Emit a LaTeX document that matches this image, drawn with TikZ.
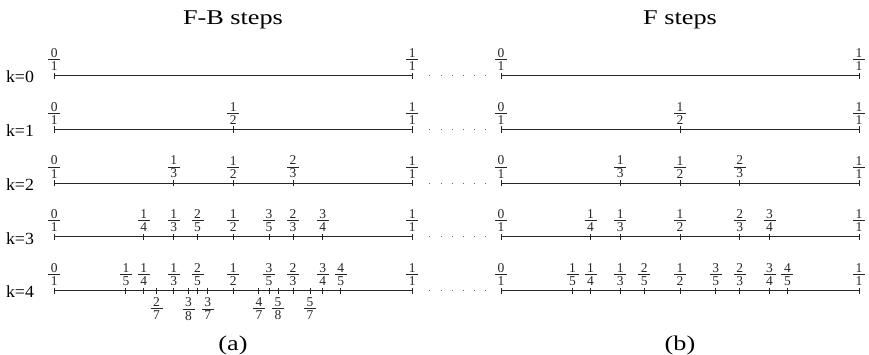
\documentclass[tikz,border=0pt]{standalone}
\usepackage{fontspec}
\setmainfont{Liberation Serif}
\newcommand\stretchtxt[2]{\scalebox{#1}[1]{#2}}
\newcommand\fr[2]{\vbox{\offinterlineskip
  \hbox to 12pt{\hss#1\hss}\kern1.6pt
  \hrule height 0.9pt\kern1.6pt
  \hbox to 12pt{\hss#2\hss}}}
\def\axlen{358}
\tikzset{
  axisline/.style={line width=1pt, draw=black!85},
  tickline/.style={line width=0.9pt, draw=black!85},
  dotline/.style={line width=1pt, draw=black!60, dash pattern=on 1pt off 10.2pt},
  fraclbl/.style={inner sep=0pt, text=black!85, font=\fontsize{13.5}{15}\selectfont},
  klbl/.style={inner sep=0pt, anchor=base, font=\fontsize{17}{19}\selectfont},
  titlelbl/.style={inner sep=0pt, anchor=base, font=\fontsize{21}{24}\selectfont},
}
\newcommand\numline[5]{%
  \coordinate (#1-s) at (#2,#3);
  \coordinate (#1-e) at ({#2+\axlen},#3);
  \draw[axisline] (#1-s) -- (#1-e);
  \foreach \n/\d in {#4} {
    \coordinate (#1-\n-\d) at ({#2+\axlen*\n/\d},#3);
    \draw[tickline] ([yshift=3.2pt]#1-\n-\d) -- ([yshift=-3.2pt]#1-\n-\d);
    \node[fraclbl, anchor=south] (#1-l-\n-\d) at ([yshift=5pt]#1-\n-\d) {\fr{\n}{\d}};
  }
  \foreach \n/\d in {#5} {
    \coordinate (#1-\n-\d) at ({#2+\axlen*\n/\d},#3);
    \draw[tickline] ([yshift=3.2pt]#1-\n-\d) -- ([yshift=-3.2pt]#1-\n-\d);
    \node[fraclbl, anchor=north] (#1-l-\n-\d) at ([yshift=-7pt]#1-\n-\d) {\fr{\n}{\d}};
  }
}
\begin{document}
\begin{tikzpicture}[x=1pt, y=-1pt]
\useasboundingbox (0,0) rectangle (869,355);
% titles
\node[titlelbl] (tfb) at (233,25) {\stretchtxt{1.25}{F-B steps}};
\node[titlelbl] (tf) at (680,25) {\stretchtxt{1.25}{F steps}};
% rows
\numline{fb0}{54.3}{76}{0/1,1/1}{}
\numline{f0}{501}{76}{0/1,1/1}{}
\numline{fb1}{54.3}{129.7}{0/1,1/2,1/1}{}
\numline{f1}{501}{129.7}{0/1,1/2,1/1}{}
\numline{fb2}{54.3}{183.3}{0/1,1/3,1/2,2/3,1/1}{}
\numline{f2}{501}{183.3}{0/1,1/3,1/2,2/3,1/1}{}
\numline{fb3}{54.3}{237}{0/1,1/4,1/3,2/5,1/2,3/5,2/3,3/4,1/1}{}
\numline{f3}{501}{237}{0/1,1/4,1/3,1/2,2/3,3/4,1/1}{}
\numline{fb4}{54.3}{290.7}{0/1,1/5,1/4,1/3,2/5,1/2,3/5,2/3,3/4,4/5,1/1}{2/7,3/8,3/7,4/7,5/8,5/7}
\numline{f4}{501}{290.7}{0/1,1/5,1/4,1/3,2/5,1/2,3/5,2/3,3/4,4/5,1/1}{}
% k labels
\foreach \k/\y in {0/76,1/129.7,2/183.3,3/237,4/290.7} {
  \node[klbl] (k\k) at (20,\y+7) {\stretchtxt{1.05}{k=\k}};
  \draw[dotline] ([xshift=17pt]fb\k-e) -- ([xshift=-15pt]f\k-s);
}
% captions
\node[titlelbl] (capa) at (233,350) {\stretchtxt{1.25}{(a)}};
\node[titlelbl] (capb) at (680,350) {\stretchtxt{1.25}{(b)}};
\end{tikzpicture}
\end{document}
